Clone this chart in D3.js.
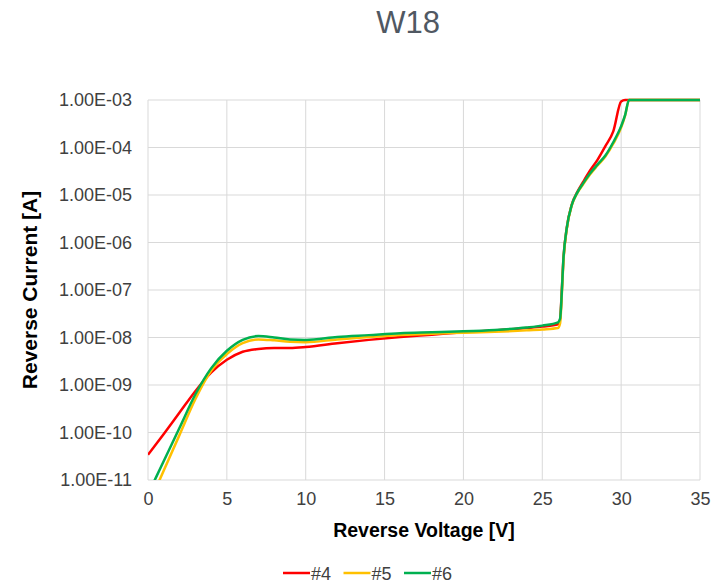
<!DOCTYPE html>
<html>
<head>
<meta charset="utf-8">
<script src="https://cdn.jsdelivr.net/npm/d3@7"></script>
<style>
  body { margin: 0; background: #fff; }
  svg { font-family: "Liberation Sans", Arial, sans-serif; }
  .grid line { stroke: #d9d9d9; stroke-width: 1; }
  .tick text { fill: #404040; }
</style>
</head>
<body>
<div class="chart"></div>
<script>
// reverse voltage sweep [V], shared by the three samples
const voltage = [0, 1, 2, 3, 4, 5, 6, 7, 8, 9, 10, 12, 14, 16, 18, 20, 22, 24, 25, 26,
                 26.13, 26.23, 26.33, 26.55, 26.87, 27.2, 27.6, 28, 28.5, 29, 29.5, 30, 30.25, 30.5, 31, 35];

// log10 of reverse current [A]
const logI4 = [-10.47, -10.03, -9.58, -9.13, -8.74, -8.47, -8.30, -8.24, -8.22, -8.22, -8.20, -8.12, -8.05, -7.99, -7.94, -7.89, -7.85, -7.80, -7.77, -7.72,
               -7.62, -7.05, -6.40, -5.70, -5.20, -4.95, -4.72, -4.50, -4.26, -3.97, -3.66, -3.03, -3.00, -3.00, -3.00, -3.00];
const logI5 = [-11.55, -10.80, -10.05, -9.30, -8.70, -8.35, -8.12, -8.04, -8.06, -8.09, -8.10, -8.04, -7.99, -7.95, -7.92, -7.90, -7.88, -7.85, -7.83, -7.80,
               -7.70, -7.15, -6.45, -5.72, -5.22, -4.97, -4.77, -4.58, -4.38, -4.19, -3.92, -3.58, -3.33, -3.00, -3.00, -3.00];
const logI6 = [-11.30, -10.60, -9.90, -9.20, -8.65, -8.28, -8.05, -7.97, -8.00, -8.04, -8.05, -7.99, -7.95, -7.91, -7.89, -7.87, -7.84, -7.79, -7.75, -7.68,
               -7.60, -7.10, -6.40, -5.70, -5.21, -4.96, -4.75, -4.56, -4.36, -4.17, -3.89, -3.55, -3.32, -3.00, -3.00, -3.00];

const seriesNames = ["#4", "#5", "#6"];
const seriesColors = ["#ff0000", "#ffc000", "#00b050"];
const xTicks = [0, 5, 10, 15, 20, 25, 30, 35];
const yTicks = [1e-11, 1e-10, 1e-9, 1e-8, 1e-7, 1e-6, 1e-5, 1e-4, 1e-3];

const width = 720, height = 585;
const margin = {top: 100, right: 20, bottom: 105, left: 148};
const plotW = width - margin.left - margin.right,
      plotH = height - margin.top - margin.bottom;

const x = d3.scaleLinear().domain([0, 35]).range([0, plotW]);
const y = d3.scaleLog().domain([1e-11, 1e-3]).range([plotH, 0]);

const series = [logI4, logI5, logI6].map((s, i) => ({
  name: seriesNames[i],
  color: seriesColors[i],
  values: s.map((v, j) => ({v: voltage[j], i: Math.pow(10, v)}))
}));

const svg = d3.select(".chart").append("svg")
    .attr("width", width)
    .attr("height", height);

// title
svg.append("text")
    .attr("x", 408).attr("y", 33)
    .attr("text-anchor", "middle")
    .style("font-size", "31px")
    .style("fill", "#505862")
    .text("W18");

const g = svg.append("g")
    .attr("transform", "translate(" + margin.left + "," + margin.top + ")");

// gridlines
g.append("g").attr("class", "grid")
  .selectAll("line").data(xTicks).enter().append("line")
    .attr("x1", d => x(d)).attr("x2", d => x(d))
    .attr("y1", 0).attr("y2", plotH);
g.append("g").attr("class", "grid")
  .selectAll("line").data(yTicks).enter().append("line")
    .attr("x1", 0).attr("x2", plotW)
    .attr("y1", d => y(d)).attr("y2", d => y(d));

const fmtE = d => {
  const e = Math.round(Math.log10(d));
  return "1.00E" + (e < 0 ? "-" : "+") + String(Math.abs(e)).padStart(2, "0");
};

// axes (text only, grid does the lines)
const yAxis = g.append("g")
    .call(d3.axisLeft(y).tickValues(yTicks).tickFormat(fmtE).tickSize(0).tickPadding(16));
yAxis.select(".domain").remove();
yAxis.selectAll("text").style("font-size", "18px");

const xAxis = g.append("g")
    .attr("transform", "translate(0," + plotH + ")")
    .call(d3.axisBottom(x).tickValues(xTicks).tickSize(0).tickPadding(12));
xAxis.select(".domain").remove();
xAxis.selectAll("text").style("font-size", "18px");

// axis titles
svg.append("text")
    .attr("x", margin.left + plotW / 2).attr("y", 537)
    .attr("text-anchor", "middle")
    .style("font-size", "19.5px").style("font-weight", "bold")
    .text("Reverse Voltage [V]");

svg.append("text")
    .attr("transform", "translate(37," + (margin.top + plotH / 2) + ") rotate(-90)")
    .attr("text-anchor", "middle")
    .style("font-size", "21px").style("font-weight", "bold")
    .text("Reverse Current [A]");

// clip so the low-voltage tails stop at 1E-11
g.append("clipPath").attr("id", "plot-clip")
  .append("rect").attr("x", 0).attr("y", -2).attr("width", plotW).attr("height", plotH + 2);

const line = d3.line()
    .x(d => x(d.v))
    .y(d => y(d.i))
    .curve(d3.curveMonotoneX);

g.append("g").attr("clip-path", "url(#plot-clip)")
  .selectAll("path").data(series).enter().append("path")
    .attr("d", d => line(d.values))
    .attr("fill", "none")
    .attr("stroke", d => d.color)
    .attr("stroke-width", 2.5)
    .attr("stroke-linejoin", "round");

// legend
const legend = svg.append("g").attr("transform", "translate(283,573)");
const item = legend.selectAll("g").data(series).enter().append("g")
    .attr("transform", (d, i) => "translate(" + (i * 60.5) + ",0)");
item.append("line")
    .attr("x1", 0).attr("x2", 27)
    .attr("stroke", d => d.color).attr("stroke-width", 2.5);
item.append("text")
    .attr("x", 28).attr("y", 7)
    .style("font-size", "18px").style("fill", "#404040")
    .text(d => d.name);
</script>
</body>
</html>
